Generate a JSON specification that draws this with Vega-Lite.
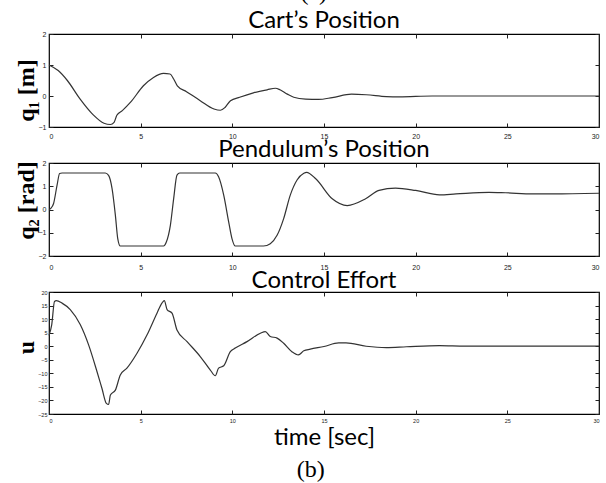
{
  "$schema": "https://vega.github.io/schema/vega-lite/v6.json",
  "padding": {"left": 13, "top": -19, "right": 0, "bottom": 0},
  "background": "white",
  "title": {"text": "(a)", "font": "Liberation Serif", "fontSize": 24, "fontWeight": "normal", "color": "black", "baseline": "alphabetic", "offset": -16, "anchor": "middle", "dx": 6},
  "datasets": {
    "cart": [
      {"t": 0, "v": 1.0}, {"t": 0.5, "v": 0.82}, {"t": 1.0, "v": 0.5}, {"t": 1.7, "v": -0.1},
      {"t": 2.4, "v": -0.6}, {"t": 3.0, "v": -0.88}, {"t": 3.35, "v": -0.92}, {"t": 3.55, "v": -0.85},
      {"t": 3.7, "v": -0.62}, {"t": 4.0, "v": -0.47}, {"t": 4.45, "v": -0.2}, {"t": 5.15, "v": 0.33},
      {"t": 5.7, "v": 0.6}, {"t": 6.25, "v": 0.73}, {"t": 6.6, "v": 0.71}, {"t": 6.8, "v": 0.55},
      {"t": 7.0, "v": 0.33}, {"t": 7.5, "v": 0.14}, {"t": 8.25, "v": -0.15}, {"t": 9.0, "v": -0.42},
      {"t": 9.35, "v": -0.46}, {"t": 9.6, "v": -0.37}, {"t": 9.9, "v": -0.15}, {"t": 10.4, "v": -0.04},
      {"t": 11.15, "v": 0.1}, {"t": 11.9, "v": 0.2}, {"t": 12.35, "v": 0.25}, {"t": 12.6, "v": 0.2},
      {"t": 13.0, "v": 0.06}, {"t": 13.35, "v": -0.04}, {"t": 14.0, "v": -0.1}, {"t": 14.7, "v": -0.11},
      {"t": 15.45, "v": -0.05}, {"t": 16.5, "v": 0.06}, {"t": 17.3, "v": 0.04}, {"t": 18.4, "v": -0.02},
      {"t": 19.1, "v": -0.03}, {"t": 20.9, "v": 0.0}, {"t": 30, "v": 0.0}
    ],
    "pend": [
      {"t": 0, "v": 0.0}, {"t": 0.1, "v": 0.05}, {"t": 0.25, "v": 0.26}, {"t": 0.44, "v": 1.05},
      {"t": 0.58, "v": 1.55}, {"t": 0.71, "v": 1.57}, {"t": 3.07, "v": 1.57}, {"t": 3.25, "v": 1.47},
      {"t": 3.44, "v": 0.9}, {"t": 3.62, "v": -0.24}, {"t": 3.75, "v": -1.25}, {"t": 3.89, "v": -1.57},
      {"t": 6.25, "v": -1.57}, {"t": 6.4, "v": -1.4}, {"t": 6.62, "v": -0.68}, {"t": 6.8, "v": 0.47},
      {"t": 6.98, "v": 1.48}, {"t": 7.13, "v": 1.57}, {"t": 9.07, "v": 1.57}, {"t": 9.25, "v": 1.41},
      {"t": 9.53, "v": 0.62}, {"t": 9.8, "v": -0.53}, {"t": 9.98, "v": -1.25}, {"t": 10.16, "v": -1.57},
      {"t": 11.7, "v": -1.57}, {"t": 12.07, "v": -1.47}, {"t": 12.44, "v": -1.11}, {"t": 12.8, "v": -0.39},
      {"t": 13.16, "v": 0.62}, {"t": 13.53, "v": 1.27}, {"t": 13.9, "v": 1.56}, {"t": 14.05, "v": 1.6},
      {"t": 14.55, "v": 1.32}, {"t": 15.45, "v": 0.46}, {"t": 16.27, "v": 0.17}, {"t": 17.27, "v": 0.46},
      {"t": 18.0, "v": 0.82}, {"t": 18.9, "v": 0.92}, {"t": 20.0, "v": 0.82}, {"t": 21.3, "v": 0.63},
      {"t": 22.2, "v": 0.67}, {"t": 24.0, "v": 0.74}, {"t": 24.9, "v": 0.72}, {"t": 26.4, "v": 0.67},
      {"t": 27.5, "v": 0.67}, {"t": 30, "v": 0.7}
    ],
    "effort": [
      {"t": 0, "v": 4}, {"t": 0.15, "v": 8}, {"t": 0.3, "v": 16.5}, {"t": 0.4, "v": 16.8},
      {"t": 0.71, "v": 15.9}, {"t": 1.16, "v": 13.5}, {"t": 1.71, "v": 7.9}, {"t": 2.16, "v": 0.5},
      {"t": 2.62, "v": -9.4}, {"t": 2.89, "v": -15.6}, {"t": 3.13, "v": -21.1}, {"t": 3.25, "v": -21.5},
      {"t": 3.35, "v": -18.0}, {"t": 3.62, "v": -16.2}, {"t": 3.89, "v": -10.6}, {"t": 4.25, "v": -8.1},
      {"t": 4.8, "v": -2.6}, {"t": 5.35, "v": 4.2}, {"t": 5.89, "v": 12.2}, {"t": 6.16, "v": 15.9},
      {"t": 6.29, "v": 16.8}, {"t": 6.44, "v": 13.5}, {"t": 6.71, "v": 12.2}, {"t": 6.98, "v": 6.0},
      {"t": 7.53, "v": 1.7}, {"t": 8.25, "v": -3.8}, {"t": 8.8, "v": -8.8}, {"t": 9.07, "v": -10.9},
      {"t": 9.25, "v": -8.1}, {"t": 9.53, "v": -7.2}, {"t": 9.89, "v": -2.0}, {"t": 10.16, "v": -0.7},
      {"t": 10.8, "v": 1.7}, {"t": 11.53, "v": 4.8}, {"t": 11.8, "v": 5.4}, {"t": 12.07, "v": 3.6},
      {"t": 12.44, "v": 3.0}, {"t": 12.8, "v": 1.1}, {"t": 13.25, "v": -2.0}, {"t": 13.6, "v": -3.2},
      {"t": 13.9, "v": -1.7}, {"t": 14.25, "v": -1.1}, {"t": 15.0, "v": -0.1}, {"t": 15.8, "v": 1.2},
      {"t": 16.2, "v": 1.2}, {"t": 17.3, "v": 0.0}, {"t": 18.4, "v": -0.5}, {"t": 19.5, "v": -0.2},
      {"t": 21.3, "v": 0.2}, {"t": 22.7, "v": 0.0}, {"t": 30, "v": 0.0}
    ]
  },
  "vconcat": [
    {
      "title": {"text": "(b)", "orient": "bottom", "font": "Liberation Serif", "fontSize": 24, "fontWeight": "normal", "color": "black", "baseline": "alphabetic", "offset": 27, "anchor": "middle", "dx": 3},
      "spacing": 36,
      "bounds": "flush",
      "vconcat": [
        {
          "title": {"text": "Cart’s Position"},
          "width": 550, "height": 93,
          "data": {"name": "cart"},
          "layer": [
            {"mark": {"type": "line"},
             "encoding": {
               "x": {"field": "t", "type": "quantitative", "scale": {"domain": [0, 30], "nice": false}, "axis": {"values": [0, 5, 10, 15, 20, 25, 30], "title": null, "labelPadding": 9}},
               "y": {"field": "v", "type": "quantitative", "scale": {"domain": [-1, 2], "nice": false}, "axis": {"values": [-1, 0, 1, 2], "title": "q₁ [m]", "titleX": -16, "titleY": 56, "labelPadding": 7}}
             }},
            {"mark": {"type": "line", "opacity": 0},
             "encoding": {
               "x": {"field": "t", "type": "quantitative", "axis": {"orient": "top", "values": [0, 5, 10, 15, 20, 25, 30], "labels": false, "title": null}},
               "y": {"field": "v", "type": "quantitative", "axis": {"orient": "right", "values": [-1, 0, 1, 2], "labels": false, "title": null}}
             }}
          ],
          "resolve": {"axis": {"x": "independent", "y": "independent"}}
        },
        {
          "title": {"text": "Pendulum’s Position"},
          "width": 550, "height": 93,
          "data": {"name": "pend"},
          "layer": [
            {"mark": {"type": "line"},
             "encoding": {
               "x": {"field": "t", "type": "quantitative", "scale": {"domain": [0, 30], "nice": false}, "axis": {"values": [0, 5, 10, 15, 20, 25, 30], "title": null, "labelPadding": 11}},
               "y": {"field": "v", "type": "quantitative", "scale": {"domain": [-2, 2], "nice": false}, "axis": {"values": [-2, -1, 0, 1, 2], "title": "q₂ [rad]", "titleX": -16, "titleY": 37, "labelPadding": 7}}
             }},
            {"mark": {"type": "line", "opacity": 0},
             "encoding": {
               "x": {"field": "t", "type": "quantitative", "axis": {"orient": "top", "values": [0, 5, 10, 15, 20, 25, 30], "labels": false, "title": null}},
               "y": {"field": "v", "type": "quantitative", "axis": {"orient": "right", "values": [-2, -1, 0, 1, 2], "labels": false, "title": null}}
             }}
          ],
          "resolve": {"axis": {"x": "independent", "y": "independent"}}
        },
        {
          "title": {"text": "Control Effort"},
          "width": 550, "height": 122,
          "data": {"name": "effort"},
          "layer": [
            {"mark": {"type": "line"},
             "encoding": {
               "x": {"field": "t", "type": "quantitative", "scale": {"domain": [0, 30], "nice": false}, "axis": {"values": [0, 5, 10, 15, 20, 25, 30], "title": "time [sec]", "titleFont": "Lato", "titleFontWeight": "normal", "titleFontSize": 24, "titleBaseline": "alphabetic", "titleY": 30, "labelPadding": 8, "labelFontSize": 5.5}},
               "y": {"field": "v", "type": "quantitative", "scale": {"domain": [-25, 20], "nice": false}, "axis": {"values": [-25, -20, -15, -10, -5, 0, 5, 10, 15, 20], "title": "u", "titleX": -16, "titleY": 55, "labelPadding": 6, "labelFontSize": 5.5}}
             }},
            {"mark": {"type": "line", "opacity": 0},
             "encoding": {
               "x": {"field": "t", "type": "quantitative", "axis": {"orient": "top", "values": [0, 5, 10, 15, 20, 25, 30], "labels": false, "title": null}},
               "y": {"field": "v", "type": "quantitative", "axis": {"orient": "right", "values": [-25, -20, -15, -10, -5, 0, 5, 10, 15, 20], "labels": false, "title": null}}
             }}
          ],
          "resolve": {"axis": {"x": "independent", "y": "independent"}}
        }
      ]
    }
  ],
  "config": {
    "view": {"stroke": "black", "strokeWidth": 1.2},
    "axis": {"domain": false, "grid": false, "tickColor": "#222", "tickSize": -4, "labelFont": "Liberation Sans", "labelFontSize": 7, "labelColor": "#222", "titleFont": "Liberation Serif", "titleFontWeight": "bold", "titleFontSize": 24, "titleColor": "black", "titleBaseline": "alphabetic", "titleAngle": -90},
    "axisX": {"titleAngle": 0},
    "title": {"font": "Lato", "fontSize": 24, "fontWeight": "normal", "color": "black", "offset": -3, "baseline": "alphabetic", "anchor": "middle"},
    "line": {"color": "#333", "strokeWidth": 1.2, "interpolate": "monotone"}
  }
}
